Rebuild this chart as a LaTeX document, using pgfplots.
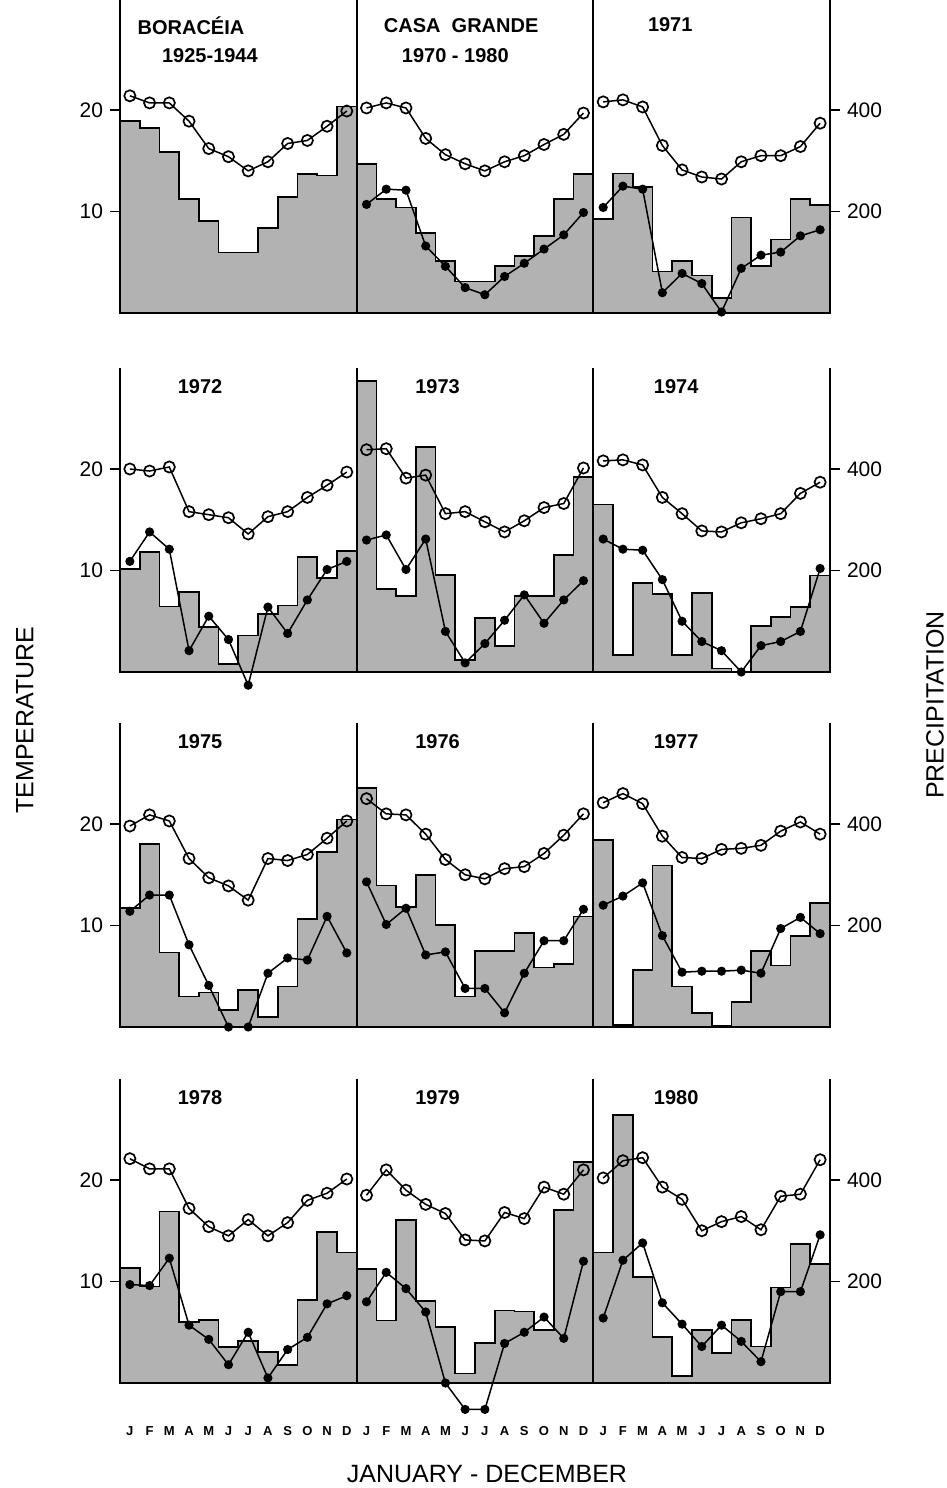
\documentclass[border=0pt]{standalone}
\usepackage{pgfplots}
\usepackage{pgfplotstable}
\pgfplotsset{compat=1.18}
\usepackage{fontspec}
\setmainfont{Liberation Sans}
\newcommand\titfont{\fontsize{10}{12}\selectfont\bfseries}
\newcommand\ticfont{\fontsize{10.5}{12}\selectfont}

\pgfplotstableread{
m pA pB pC xA xB nB xC nC
0 378 294 185 21.4 20.2 10.7 20.8 10.4
1 364 225 275 20.7 20.7 12.2 21.0 12.5
2 317 208 248 20.7 20.2 12.1 20.3 12.2
3 225 158 82 18.9 17.2 6.6 16.5 2.0
4 181 102 102 16.2 15.6 4.6 14.1 3.9
5 119 62 74 15.4 14.7 2.5 13.4 2.9
6 119 62 30 14.0 14.0 1.8 13.2 0.1
7 168 92 188 14.9 14.9 3.6 14.9 4.4
8 229 112 92 16.7 15.5 4.9 15.5 5.7
9 274 152 145 17.0 16.6 6.3 15.5 6.0
10 271 225 225 18.4 17.6 7.7 16.4 7.6
11 407 274 213 19.9 19.7 9.9 18.7 8.2
12 407 274 213 nan nan nan nan nan
}\rowI

\pgfplotstableread{
m pA pB pC xA nA xB nB xC nC
0 203 573 330 20.0 10.9 21.9 13.0 20.8 13.1
1 236 163 34 19.8 13.8 22.0 13.5 20.9 12.1
2 129 150 176 20.2 12.1 19.1 10.1 20.4 12.0
3 157 443 154 15.8 2.1 19.4 13.1 17.2 9.1
4 89 191 34 15.5 5.5 15.6 4.0 15.6 5.0
5 16 24 155 15.2 3.2 15.8 0.9 13.9 3.0
6 72 106 7 13.6 -1.3 14.8 2.8 13.8 2.1
7 114 51 0 15.3 6.4 13.8 5.1 14.7 0.0
8 131 150 91 15.8 3.8 14.9 7.6 15.1 2.6
9 226 150 109 17.2 7.1 16.2 4.8 15.6 3.0
10 185 231 128 18.4 10.1 16.6 7.1 17.6 4.0
11 239 384 190 19.7 10.9 20.1 9.0 18.7 10.2
12 239 384 190 nan nan nan nan nan nan
}\rowII

\pgfplotstableread{
m pA pB pC xA nA xB nB xC nC
0 234 471 369 19.8 11.4 22.5 14.3 22.1 12.0
1 361 279 4 20.9 13.0 21.0 10.1 23.0 12.9
2 147 236 113 20.3 13.0 20.9 11.7 22.0 14.2
3 60 299 318 16.6 8.1 19.0 7.1 18.8 9.0
4 68 201 80 14.7 4.1 16.5 7.4 16.7 5.4
5 34 60 28 13.9 0.0 15.0 3.8 16.6 5.5
6 73 150 3 12.5 0.0 14.6 3.8 17.5 5.5
7 20 150 49 16.6 5.3 15.6 1.4 17.6 5.6
8 80 185 150 16.4 6.8 15.8 5.3 17.9 5.3
9 213 117 121 17.0 6.6 17.1 8.5 19.3 9.7
10 345 124 180 18.6 10.9 18.9 8.5 20.2 10.8
11 409 218 244 20.3 7.3 21.0 11.6 19.0 9.2
12 409 218 244 nan nan nan nan nan nan
}\rowIII

\pgfplotstableread{
m pA pB pC xA nA xB nB xC nC
0 226 224 257 22.1 9.7 18.5 8.0 20.2 6.4
1 190 123 528 21.1 9.6 21.0 10.9 21.9 12.1
2 338 321 209 21.1 12.3 19.0 9.3 22.2 13.8
3 120 162 91 17.2 5.7 17.6 7.0 19.3 7.9
4 124 111 14 15.4 4.3 16.7 0.0 18.1 5.8
5 71 19 104 14.5 1.8 14.1 -2.6 15.0 3.6
6 83 79 59 16.1 5.0 14.0 -2.6 15.9 5.7
7 61 143 124 14.5 0.5 16.8 3.9 16.4 4.1
8 35 141 72 15.8 3.3 16.2 5.0 15.1 2.1
9 164 104 188 18.0 4.5 19.3 6.5 18.4 9.0
10 297 341 274 18.7 7.8 18.6 4.4 18.6 9.0
11 257 435 234 20.1 8.6 21.0 12.0 22.0 14.6
12 257 435 234 nan nan nan nan nan nan
}\rowIV

\tikzset{panelsep/.style={line width=0.9pt}}
\pgfplotsset{
  common/.style={scale only axis, width=355pt, xmin=0, xmax=36, ymin=0,
    clip=false, tick align=outside, major tick length=5pt,
    axis line style={line width=0.9pt},
    every tick/.style={black, line width=0.9pt},
    /pgf/number format/assume math mode=true,
    yticklabel style={font=\ticfont}, anchor=south west},
  prc/.style={common, axis x line=none, axis y line*=right, ytick={200,400},
    axis on top, xtick=\empty},
  tmp/.style={common, axis x line*=bottom, axis y line*=left, ytick={10,20}, xtick=\empty},
  bar/.style={const plot, fill=black!30, draw=black, line width=0.85pt},
  tmax/.style={black, line width=0.75pt, mark=o, mark size=2.8pt,
    mark options={fill=white, line width=0.85pt, solid}},
  tmin/.style={black, line width=0.75pt, mark=*, mark size=1.9pt},
}

\begin{document}
\begin{tikzpicture}
\path[use as bounding box] (0,0) rectangle (473.5pt,-744pt);

% ---------- Row 1 ----------
\begin{axis}[prc, at={(60pt,-156.5pt)}, height=156.31pt, ymax=616]
\addplot[bar] table[x=m, y=pA] \rowI \closedcycle;
\addplot[bar] table[x expr=\thisrow{m}+12, y=pB] \rowI \closedcycle;
\addplot[bar] table[x expr=\thisrow{m}+24, y=pC] \rowI \closedcycle;
\end{axis}
\begin{axis}[tmp, at={(60pt,-156.5pt)}, height=156.31pt, ymax=30.8]
\addplot[tmax] table[x expr=\thisrow{m}+0.5, y=xA] \rowI;
\addplot[tmax] table[x expr=\thisrow{m}+12.5, y=xB] \rowI;
\addplot[tmin] table[x expr=\thisrow{m}+12.5, y=nB] \rowI;
\addplot[tmax] table[x expr=\thisrow{m}+24.5, y=xC] \rowI;
\addplot[tmin] table[x expr=\thisrow{m}+24.5, y=nC] \rowI;
\draw[panelsep] (axis cs:12,0) -- (axis cs:12,30.8);
\draw[panelsep] (axis cs:24,0) -- (axis cs:24,30.8);
\node[font=\titfont] at (axis cs:3.6,28.3) {BORACÉIA};
\node[font=\titfont] at (axis cs:4.56,25.4) {1925-1944};
\node[font=\titfont] at (axis cs:17.3,28.3) {CASA\ \ GRANDE};
\node[font=\titfont] at (axis cs:17.0,25.4) {1970 - 1980};
\node[font=\titfont] at (axis cs:27.9,28.4) {1971};
\end{axis}

% ---------- Row 2 ----------
\begin{axis}[prc, at={(60pt,-336pt)}, height=152.25pt, ymax=600]
\addplot[bar] table[x=m, y=pA] \rowII \closedcycle;
\addplot[bar] table[x expr=\thisrow{m}+12, y=pB] \rowII \closedcycle;
\addplot[bar] table[x expr=\thisrow{m}+24, y=pC] \rowII \closedcycle;
\end{axis}
\begin{axis}[tmp, at={(60pt,-336pt)}, height=152.25pt, ymax=30]
\addplot[tmax] table[x expr=\thisrow{m}+0.5, y=xA] \rowII;
\addplot[tmin] table[x expr=\thisrow{m}+0.5, y=nA] \rowII;
\addplot[tmax] table[x expr=\thisrow{m}+12.5, y=xB] \rowII;
\addplot[tmin] table[x expr=\thisrow{m}+12.5, y=nB] \rowII;
\addplot[tmax] table[x expr=\thisrow{m}+24.5, y=xC] \rowII;
\addplot[tmin] table[x expr=\thisrow{m}+24.5, y=nC] \rowII;
\draw[panelsep] (axis cs:12,0) -- (axis cs:12,30);
\draw[panelsep] (axis cs:24,0) -- (axis cs:24,30);
\node[font=\titfont] at (axis cs:4.06,28.1) {1972};
\node[font=\titfont] at (axis cs:16.1,28.1) {1973};
\node[font=\titfont] at (axis cs:28.2,28.1) {1974};
\end{axis}

% ---------- Row 3 ----------
\begin{axis}[prc, at={(60pt,-513.5pt)}, height=152.25pt, ymax=600]
\addplot[bar] table[x=m, y=pA] \rowIII \closedcycle;
\addplot[bar] table[x expr=\thisrow{m}+12, y=pB] \rowIII \closedcycle;
\addplot[bar] table[x expr=\thisrow{m}+24, y=pC] \rowIII \closedcycle;
\end{axis}
\begin{axis}[tmp, at={(60pt,-513.5pt)}, height=152.25pt, ymax=30]
\addplot[tmax] table[x expr=\thisrow{m}+0.5, y=xA] \rowIII;
\addplot[tmin] table[x expr=\thisrow{m}+0.5, y=nA] \rowIII;
\addplot[tmax] table[x expr=\thisrow{m}+12.5, y=xB] \rowIII;
\addplot[tmin] table[x expr=\thisrow{m}+12.5, y=nB] \rowIII;
\addplot[tmax] table[x expr=\thisrow{m}+24.5, y=xC] \rowIII;
\addplot[tmin] table[x expr=\thisrow{m}+24.5, y=nC] \rowIII;
\draw[panelsep] (axis cs:12,0) -- (axis cs:12,30);
\draw[panelsep] (axis cs:24,0) -- (axis cs:24,30);
\node[font=\titfont] at (axis cs:4.06,28.1) {1975};
\node[font=\titfont] at (axis cs:16.1,28.1) {1976};
\node[font=\titfont] at (axis cs:28.2,28.1) {1977};
\end{axis}

% ---------- Row 4 ----------
\begin{axis}[prc, at={(60pt,-691.5pt)}, height=152.25pt, ymax=600]
\addplot[bar] table[x=m, y=pA] \rowIV \closedcycle;
\addplot[bar] table[x expr=\thisrow{m}+12, y=pB] \rowIV \closedcycle;
\addplot[bar] table[x expr=\thisrow{m}+24, y=pC] \rowIV \closedcycle;
\end{axis}
\begin{axis}[tmp, at={(60pt,-691.5pt)}, height=152.25pt, ymax=30,
  xtick={0.5,1.5,...,35.5},
  xticklabels={J,F,M,A,M,J,J,A,S,O,N,D,J,F,M,A,M,J,J,A,S,O,N,D,J,F,M,A,M,J,J,A,S,O,N,D},
  xtick style={draw=none}, xticklabel shift=13pt,
  xticklabel style={font=\fontsize{6.5}{7}\selectfont\bfseries}]
\addplot[tmax] table[x expr=\thisrow{m}+0.5, y=xA] \rowIV;
\addplot[tmin] table[x expr=\thisrow{m}+0.5, y=nA] \rowIV;
\addplot[tmax] table[x expr=\thisrow{m}+12.5, y=xB] \rowIV;
\addplot[tmin] table[x expr=\thisrow{m}+12.5, y=nB] \rowIV;
\addplot[tmax] table[x expr=\thisrow{m}+24.5, y=xC] \rowIV;
\addplot[tmin] table[x expr=\thisrow{m}+24.5, y=nC] \rowIV;
\draw[panelsep] (axis cs:12,0) -- (axis cs:12,30);
\draw[panelsep] (axis cs:24,0) -- (axis cs:24,30);
\node[font=\titfont] at (axis cs:4.06,28.1) {1978};
\node[font=\titfont] at (axis cs:16.1,28.1) {1979};
\node[font=\titfont] at (axis cs:28.2,28.1) {1980};
\end{axis}

\node[rotate=90, font=\fontsize{12.5}{14}\selectfont] at (12.5pt,-360pt) {TEMPERATURE};
\node[rotate=90, font=\fontsize{12.5}{14}\selectfont] at (467.5pt,-352.5pt) {PRECIPITATION};
\node[font=\fontsize{12.5}{14}\selectfont] at (243.5pt,-737pt) {JANUARY - DECEMBER};
\end{tikzpicture}
\end{document}
